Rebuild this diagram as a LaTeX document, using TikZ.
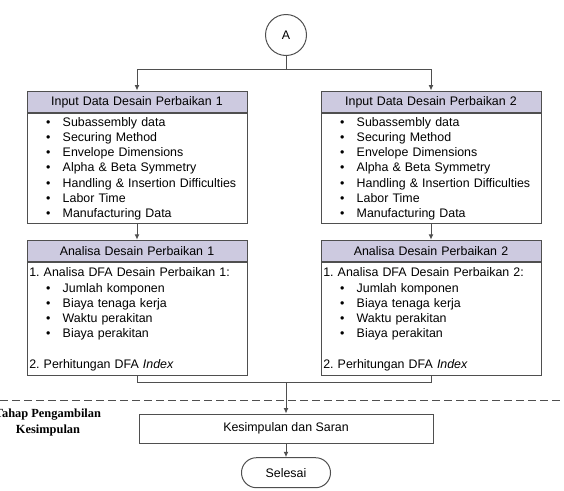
\documentclass[tikz,border=0pt]{standalone}
\usepackage{fontspec}
\setmainfont{Liberation Sans}
\newfontfamily\stageserif{Liberation Serif}
\usepackage{xcolor}
\usepackage{tikz}
\usetikzlibrary{arrows.meta,positioning}
\definecolor{FlowLine}{HTML}{4F4F4F}
\definecolor{FlowHead}{HTML}{CDCAE0}
\newcommand{\bitem}[1]{\hspace*{14.3pt}\makebox[0pt]{\textbullet}\hspace*{10.8pt}#1}
\frenchspacing

\begin{document}
\begin{tikzpicture}[
  x=0.75pt, y=-0.75pt,
  font=\fontsize{9.3}{11.4}\selectfont,
  head/.style={
    draw=FlowLine,
    line width=0.75pt,
    fill=FlowHead,
    text width=161.6pt,
    align=center,
    inner xsep=1.7pt,
    minimum height=16.3pt
  },
  body/.style={
    draw=FlowLine,
    line width=0.75pt,
    fill=white,
    text width=161.6pt,
    align=left,
    inner xsep=1.7pt,
    inner ysep=1pt,
    minimum height=#1
  },
  plainbox/.style={
    draw=FlowLine,
    line width=0.75pt,
    minimum width=220.5pt,
    minimum height=22pt
  },
  terminal/.style={
    draw=FlowLine,
    line width=0.75pt,
    rounded corners=11.2pt,
    minimum width=66.75pt,
    minimum height=22.5pt
  },
  connector/.style={circle,draw=FlowLine,line width=0.75pt,minimum size=30.75pt,inner sep=0pt},
  line/.style={line width=0.75pt,draw=FlowLine},
  arrow/.style={-{Latex[length=4pt,width=3.6pt]},line width=0.75pt,draw=FlowLine}
]
  \useasboundingbox (0,0) rectangle (564,490);

  \node[connector] (conA) at (286,35) {A};
  \coordinate (split) at (286,69.3);

  \node[head,anchor=north] (inhead1) at (137,90.5) {Input Data Desain Perbaikan 1};
  \node[body=82.5pt,below=0pt of inhead1] (inbody1) {
    \bitem{Subassembly data}\\
    \bitem{Securing Method}\\
    \bitem{Envelope Dimensions}\\
    \bitem{Alpha \& Beta Symmetry}\\
    \bitem{Handling \& Insertion Difficulties}\\
    \bitem{Labor Time}\\
    \bitem{Manufacturing Data}
  };
  \node[head,below=11.6pt of inbody1] (anhead1) {Analisa Desain Perbaikan 1};
  \node[body=84.4pt,below=0pt of anhead1] (anbody1) {
    1. Analisa DFA Desain Perbaikan 1:\\
    \bitem{Jumlah komponen}\\
    \bitem{Biaya tenaga kerja}\\
    \bitem{Waktu perakitan}\\
    \bitem{Biaya perakitan}\\[11.4pt]
    2. Perhitungan DFA \textit{Index}
  };

  \node[head,anchor=north] (inhead2) at (431,90.5) {Input Data Desain Perbaikan 2};
  \node[body=82.5pt,below=0pt of inhead2] (inbody2) {
    \bitem{Subassembly data}\\
    \bitem{Securing Method}\\
    \bitem{Envelope Dimensions}\\
    \bitem{Alpha \& Beta Symmetry}\\
    \bitem{Handling \& Insertion Difficulties}\\
    \bitem{Labor Time}\\
    \bitem{Manufacturing Data}
  };
  \node[head,below=11.6pt of inbody2] (anhead2) {Analisa Desain Perbaikan 2};
  \node[body=84.4pt,below=0pt of anhead2] (anbody2) {
    1. Analisa DFA Desain Perbaikan 2:\\
    \bitem{Jumlah komponen}\\
    \bitem{Biaya tenaga kerja}\\
    \bitem{Waktu perakitan}\\
    \bitem{Biaya perakitan}\\[11.4pt]
    2. Perhitungan DFA \textit{Index}
  };

  \coordinate (merge) at (286,382);
  \node[plainbox] (conclude) at (286,428.7) {Kesimpulan dan Saran};
  \node[terminal] (finish) at (286,472.7) {Selesai};

  \draw[line,dash pattern=on 6pt off 3pt] (0,400) -- (564,400);
  \node[align=center,font=\stageserif\bfseries\fontsize{9.3}{11.3}\selectfont] (stage) at (48,422.5)
    {Tahap Pengambilan\\Kesimpulan};

  \draw[line] (conA) -- (split);
  \draw[arrow] (split) -| (inhead1);
  \draw[arrow] (split) -| (inhead2);
  \draw[arrow] (inbody1) -- (anhead1);
  \draw[arrow] (inbody2) -- (anhead2);
  \draw[line] (anbody1) |- (merge);
  \draw[line] (anbody2) |- (merge);
  \draw[arrow] (merge) -- (conclude);
  \draw[arrow] (conclude) -- (finish);
\end{tikzpicture}
\end{document}
